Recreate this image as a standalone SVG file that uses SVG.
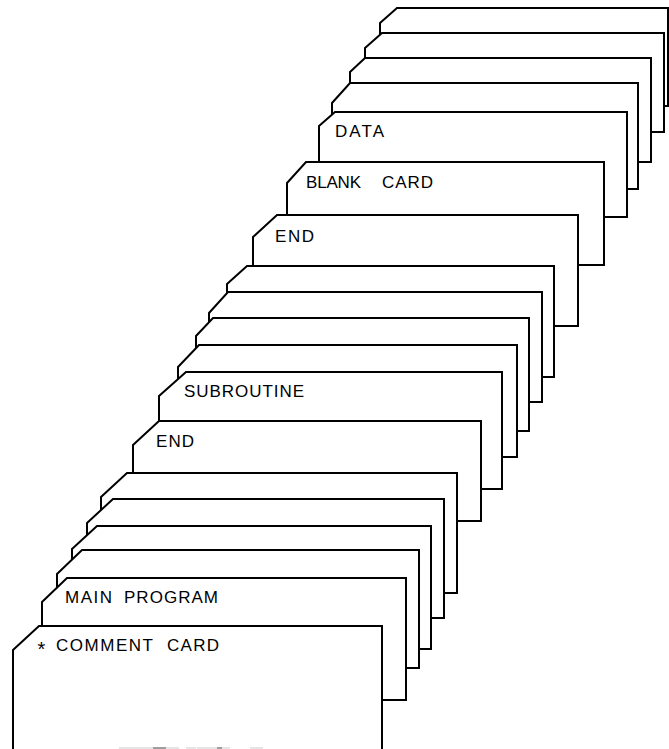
<svg xmlns="http://www.w3.org/2000/svg" width="669" height="749" viewBox="0 0 669 749">
<style>
.card{fill:#fff;stroke:#000;stroke-width:2;stroke-linejoin:miter}
.lbl{font-family:"Liberation Sans",Arial,sans-serif;font-size:17px;fill:#000}
</style>
<rect width="669" height="749" fill="#fff"/>
<g id="card-a"><polygon class="card" points="380,23 397,8 668,8 668,106 380,106"/></g>
<g id="card-b"><polygon class="card" points="365,48 382,33 664,33 664,132 365,132"/></g>
<g id="card-c"><polygon class="card" points="350,72 365,58 651,58 651,162 350,162"/></g>
<g id="card-d"><polygon class="card" points="332,103 350,83 638,83 638,189 332,189"/></g>
<g id="card-data"><polygon class="card" points="319,126 335,112 627,112 627,217 319,217"/><text class="lbl" x="335" y="137" textLength="49" lengthAdjust="spacing">DATA</text></g>
<g id="card-blank"><polygon class="card" points="287,183 306,162 604,162 604,265 287,265"/><text class="lbl" x="306" y="188" textLength="55" lengthAdjust="spacing">BLANK</text><text class="lbl" x="382" y="188" textLength="51" lengthAdjust="spacing">CARD</text></g>
<g id="card-end-upper"><polygon class="card" points="253,237 277,215 578,215 578,326 253,326"/><text class="lbl" x="275" y="242" textLength="39" lengthAdjust="spacing">END</text></g>
<g id="card-h"><polygon class="card" points="227,284 247,266 554,266 554,377 227,377"/></g>
<g id="card-i"><polygon class="card" points="209,313 228,292 542,292 542,402 209,402"/></g>
<g id="card-j"><polygon class="card" points="196,336 213,318 529,318 529,431 196,431"/></g>
<g id="card-k"><polygon class="card" points="178,367 199,345 517,345 517,457 178,457"/></g>
<g id="card-subroutine"><polygon class="card" points="159,396 186,372 502,372 502,489 159,489"/><text class="lbl" x="184" y="397" textLength="120" lengthAdjust="spacing">SUBROUTINE</text></g>
<g id="card-end-lower"><polygon class="card" points="133,445 159,421 481,421 481,521 133,521"/><text class="lbl" x="156" y="447" textLength="38" lengthAdjust="spacing">END</text></g>
<g id="card-n"><polygon class="card" points="101,497 127,473 457,473 457,593 101,593"/></g>
<g id="card-o"><polygon class="card" points="87,523 113,499 444,499 444,618 87,618"/></g>
<g id="card-p"><polygon class="card" points="72,549 97,526 431,526 431,649 72,649"/></g>
<g id="card-q"><polygon class="card" points="57,574 82,550 419,550 419,668 57,668"/></g>
<g id="card-main"><polygon class="card" points="42,602 67,578 406,578 406,700 42,700"/><text class="lbl" x="65" y="603" textLength="47" lengthAdjust="spacing">MAIN</text><text class="lbl" x="124" y="603" textLength="94" lengthAdjust="spacing">PROGRAM</text></g>
<g id="card-comment"><polygon class="card" points="13,650 39,626 382,626 382,760 13,760"/><text class="lbl" x="37.5" y="656" style="font-size:20px">*</text><text class="lbl" x="56" y="651" textLength="97" lengthAdjust="spacing">COMMENT</text><text class="lbl" x="167" y="651" textLength="52" lengthAdjust="spacing">CARD</text>
<path d="M119,748H179M186,748H196M197,748H230M250,748H263" stroke="#ddd" stroke-width="1.5" fill="none"/>
<path d="M153,748H166M217,748H222" stroke="#888" stroke-width="1.5" fill="none"/></g>
<g id="connectors"/>
</svg>
